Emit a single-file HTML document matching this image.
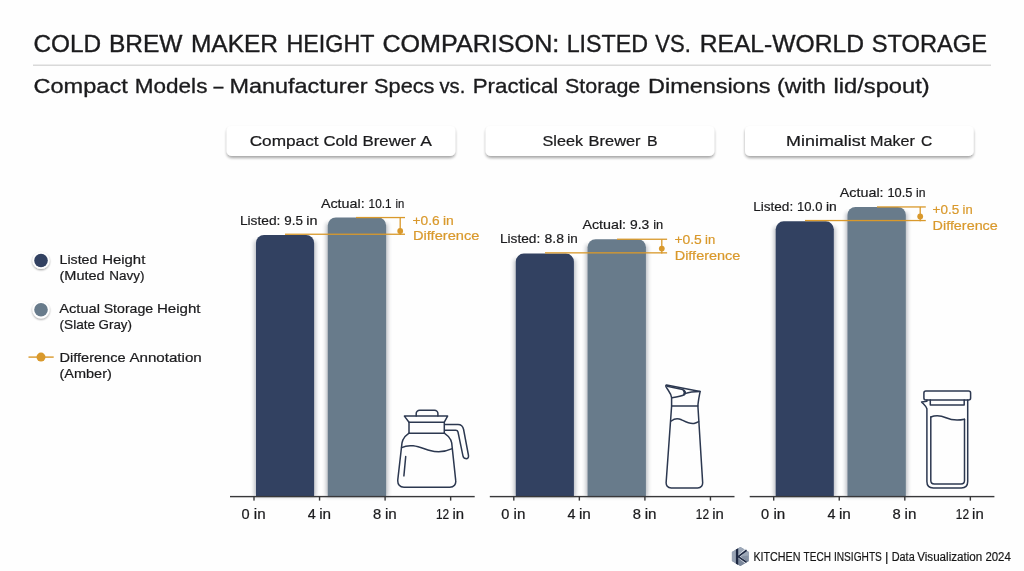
<!DOCTYPE html>
<html lang="en"><head><meta charset="utf-8"><title>Cold Brew Maker Height Comparison</title>
<style>
html,body{margin:0;padding:0;background:#fefefe;}
body{width:1024px;height:571px;overflow:hidden;font-family:"Liberation Sans",Arial,sans-serif;}
svg{display:block}
</style></head><body>
<svg width="1024" height="571" viewBox="0 0 1024 571" font-family="Liberation Sans, Arial, sans-serif">
<defs>
<filter id="cardsh" x="-10%" y="-40%" width="120%" height="200%"><feDropShadow dx="0" dy="2" stdDeviation="1.7" flood-color="#000" flood-opacity="0.36"/></filter>
<filter id="barsh" x="-20%" y="-5%" width="140%" height="110%"><feGaussianBlur stdDeviation="2.2"/></filter>
<filter id="dotsh" x="-50%" y="-50%" width="200%" height="200%"><feDropShadow dx="0" dy="1" stdDeviation="1.3" flood-color="#000" flood-opacity="0.42"/></filter>
</defs>
<rect width="1024" height="571" fill="#fefefe"/>
<g style="will-change:opacity" opacity="0.999">

<text y="51.6" font-size="24" fill="#1b1b1d" stroke="#1b1b1d" stroke-width="0.38" stroke-linejoin="round"><tspan x="33.5" textLength="67.7" lengthAdjust="spacingAndGlyphs">COLD</tspan> <tspan x="108.9" textLength="73.6" lengthAdjust="spacingAndGlyphs">BREW</tspan> <tspan x="190.9" textLength="87.2" lengthAdjust="spacingAndGlyphs">MAKER</tspan> <tspan x="286.5" textLength="87.5" lengthAdjust="spacingAndGlyphs">HEIGHT</tspan> <tspan x="382.4" textLength="176.9" lengthAdjust="spacingAndGlyphs">COMPARISON:</tspan> <tspan x="566.7" textLength="81.3" lengthAdjust="spacingAndGlyphs">LISTED</tspan> <tspan x="655.3" textLength="35.5" lengthAdjust="spacingAndGlyphs">VS.</tspan> <tspan x="699.7" textLength="164.3" lengthAdjust="spacingAndGlyphs">REAL-WORLD</tspan> <tspan x="871.7" textLength="115.3" lengthAdjust="spacingAndGlyphs">STORAGE</tspan></text>
<rect x="33" y="64.5" width="958" height="1.5" fill="#d9d9d9"/>
<text y="93.4" font-size="20.3" fill="#1b1b1d" stroke="#1b1b1d" stroke-width="0.32" stroke-linejoin="round"><tspan x="33.5" textLength="94.3" lengthAdjust="spacingAndGlyphs">Compact</tspan> <tspan x="134.8" textLength="72.6" lengthAdjust="spacingAndGlyphs">Models</tspan> <tspan x="213.5" textLength="9.9" lengthAdjust="spacingAndGlyphs">–</tspan> <tspan x="229.4" textLength="138.1" lengthAdjust="spacingAndGlyphs">Manufacturer</tspan> <tspan x="374.1" textLength="60.4" lengthAdjust="spacingAndGlyphs">Specs</tspan> <tspan x="439.5" textLength="25.8" lengthAdjust="spacingAndGlyphs">vs.</tspan> <tspan x="472.7" textLength="85.6" lengthAdjust="spacingAndGlyphs">Practical</tspan> <tspan x="565.0" textLength="75.3" lengthAdjust="spacingAndGlyphs">Storage</tspan> <tspan x="648.0" textLength="122.4" lengthAdjust="spacingAndGlyphs">Dimensions</tspan> <tspan x="777.1" textLength="48.7" lengthAdjust="spacingAndGlyphs">(with</tspan> <tspan x="833.5" textLength="96.2" lengthAdjust="spacingAndGlyphs">lid/spout)</tspan></text>
<circle cx="41" cy="260.5" r="8.6" fill="#fff" filter="url(#dotsh)"/><circle cx="41" cy="260.5" r="6.8" fill="#324161"/>
<circle cx="41" cy="309.8" r="8.6" fill="#fff" filter="url(#dotsh)"/><circle cx="41" cy="309.8" r="6.8" fill="#687b8b"/>
<rect x="28.5" y="356.4" width="25.2" height="1.4" fill="#d9992c"/><circle cx="41" cy="357.1" r="4.5" fill="#d9992c"/>
<text y="264.4" font-size="13.1" fill="#1b1b1d" stroke="#1b1b1d" stroke-width="0.21" stroke-linejoin="round"><tspan x="59.5" textLength="37.9" lengthAdjust="spacingAndGlyphs">Listed</tspan> <tspan x="102.2" textLength="43.1" lengthAdjust="spacingAndGlyphs">Height</tspan></text>
<text y="279.6" font-size="13.1" fill="#1b1b1d" stroke="#1b1b1d" stroke-width="0.21" stroke-linejoin="round"><tspan x="59.5" textLength="45.2" lengthAdjust="spacingAndGlyphs">(Muted</tspan> <tspan x="109.2" textLength="35.3" lengthAdjust="spacingAndGlyphs">Navy)</tspan></text>
<text y="313.1" font-size="13.1" fill="#1b1b1d" stroke="#1b1b1d" stroke-width="0.21" stroke-linejoin="round"><tspan x="59.2" textLength="40.8" lengthAdjust="spacingAndGlyphs">Actual</tspan> <tspan x="103.7" textLength="49.5" lengthAdjust="spacingAndGlyphs">Storage</tspan> <tspan x="157.0" textLength="43.5" lengthAdjust="spacingAndGlyphs">Height</tspan></text>
<text y="328.9" font-size="13.1" fill="#1b1b1d" stroke="#1b1b1d" stroke-width="0.21" stroke-linejoin="round"><tspan x="59.5" textLength="35.7" lengthAdjust="spacingAndGlyphs">(Slate</tspan> <tspan x="98.6" textLength="33.4" lengthAdjust="spacingAndGlyphs">Gray)</tspan></text>
<text y="361.6" font-size="13.1" fill="#1b1b1d" stroke="#1b1b1d" stroke-width="0.21" stroke-linejoin="round"><tspan x="59.5" textLength="66.1" lengthAdjust="spacingAndGlyphs">Difference</tspan> <tspan x="129.4" textLength="72.4" lengthAdjust="spacingAndGlyphs">Annotation</tspan></text>
<text y="377.7" font-size="13.1" fill="#1b1b1d" stroke="#1b1b1d" stroke-width="0.21" stroke-linejoin="round"><tspan x="59.5" textLength="52.3" lengthAdjust="spacingAndGlyphs">(Amber)</tspan></text>
<rect x="226.7" y="125.9" width="228.6" height="30" rx="5" fill="#fff" filter="url(#cardsh)"/>
<text y="146.2" font-size="15.2" fill="#1b1b1d" stroke="#1b1b1d" stroke-width="0.24" stroke-linejoin="round"><tspan x="249.7" textLength="68.9" lengthAdjust="spacingAndGlyphs">Compact</tspan> <tspan x="323.5" textLength="34.2" lengthAdjust="spacingAndGlyphs">Cold</tspan> <tspan x="362.5" textLength="53.4" lengthAdjust="spacingAndGlyphs">Brewer</tspan> <tspan x="420.2" textLength="11.7" lengthAdjust="spacingAndGlyphs">A</tspan></text>
<rect x="254.5" y="241.0" width="61.1" height="255.5" fill="#5b6472" opacity="0.45" filter="url(#barsh)"/>
<rect x="326.3" y="223.5" width="61.3" height="273.0" fill="#5b6472" opacity="0.45" filter="url(#barsh)"/>
<path d="M256.0 496.5 V243.0 a8 8 0 0 1 8 -8 h42.1 a8 8 0 0 1 8 8 V496.5 Z" fill="#324161"/>
<path d="M327.8 496.5 V225.5 a8 8 0 0 1 8 -8 h42.3 a8 8 0 0 1 8 8 V496.5 Z" fill="#687b8b"/>
<rect x="230.0" y="495.9" width="244.7" height="1.4" fill="#38383a"/>
<rect x="253.30" y="496" width="1.4" height="4.6" fill="#38383a"/>
<text y="518.5" font-size="14.2" fill="#1b1b1d" stroke="#1b1b1d" stroke-width="0.23" stroke-linejoin="round"><tspan x="241.4" textLength="8.1" lengthAdjust="spacingAndGlyphs">0</tspan> <tspan x="253.8" textLength="11.8" lengthAdjust="spacingAndGlyphs">in</tspan></text>
<rect x="318.85" y="496" width="1.4" height="4.6" fill="#38383a"/>
<text y="518.5" font-size="14.2" fill="#1b1b1d" stroke="#1b1b1d" stroke-width="0.23" stroke-linejoin="round"><tspan x="307.7" textLength="8.0" lengthAdjust="spacingAndGlyphs">4</tspan> <tspan x="319.2" textLength="11.9" lengthAdjust="spacingAndGlyphs">in</tspan></text>
<rect x="384.40" y="496" width="1.4" height="4.6" fill="#38383a"/>
<text y="518.5" font-size="14.2" fill="#1b1b1d" stroke="#1b1b1d" stroke-width="0.23" stroke-linejoin="round"><tspan x="372.9" textLength="8.2" lengthAdjust="spacingAndGlyphs">8</tspan> <tspan x="384.9" textLength="11.8" lengthAdjust="spacingAndGlyphs">in</tspan></text>
<rect x="449.95" y="496" width="1.4" height="4.6" fill="#38383a"/>
<text y="518.5" font-size="14.2" fill="#1b1b1d" stroke="#1b1b1d" stroke-width="0.23" stroke-linejoin="round"><tspan x="436.0" textLength="13.2" lengthAdjust="spacingAndGlyphs">12</tspan> <tspan x="452.4" textLength="11.6" lengthAdjust="spacingAndGlyphs">in</tspan></text>
<g fill="#d9992c"><rect x="356" y="216.9" width="49.0" height="1.3"/><rect x="285" y="233.6" width="120.0" height="1.3"/><rect x="399.55" y="217.5" width="1.3" height="17.5"/><circle cx="400.2" cy="231" r="2.9"/></g>
<text y="224.8" font-size="13.4" fill="#1b1b1d" stroke="#1b1b1d" stroke-width="0.21" stroke-linejoin="round"><tspan x="239.9" textLength="40.5" lengthAdjust="spacingAndGlyphs">Listed:</tspan> <tspan x="284.3" textLength="18.6" lengthAdjust="spacingAndGlyphs">9.5</tspan> <tspan x="306.3" textLength="11.2" lengthAdjust="spacingAndGlyphs">in</tspan></text>
<text y="207.7" font-size="13.4" fill="#1b1b1d" stroke="#1b1b1d" stroke-width="0.21" stroke-linejoin="round"><tspan x="320.9" textLength="43.8" lengthAdjust="spacingAndGlyphs">Actual:</tspan> <tspan x="368.6" textLength="22.9" lengthAdjust="spacingAndGlyphs">10.1</tspan> <tspan x="395.4" textLength="8.8" lengthAdjust="spacingAndGlyphs">in</tspan></text>
<text y="224.8" font-size="13.4" fill="#d9992c" stroke="#d9992c" stroke-width="0.21" stroke-linejoin="round"><tspan x="412.5" textLength="27.1" lengthAdjust="spacingAndGlyphs">+0.6</tspan> <tspan x="443.0" textLength="10.8" lengthAdjust="spacingAndGlyphs">in</tspan></text>
<text y="240" font-size="13.4" fill="#d9992c" stroke="#d9992c" stroke-width="0.21" stroke-linejoin="round"><tspan x="413.0" textLength="66.4" lengthAdjust="spacingAndGlyphs">Difference</tspan></text>
<rect x="485.7" y="125.9" width="228.6" height="30" rx="5" fill="#fff" filter="url(#cardsh)"/>
<text y="146.2" font-size="15.2" fill="#1b1b1d" stroke="#1b1b1d" stroke-width="0.24" stroke-linejoin="round"><tspan x="542.5" textLength="40.6" lengthAdjust="spacingAndGlyphs">Sleek</tspan> <tspan x="588.6" textLength="52.0" lengthAdjust="spacingAndGlyphs">Brewer</tspan> <tspan x="647.1" textLength="10.6" lengthAdjust="spacingAndGlyphs">B</tspan></text>
<rect x="514.3" y="259.6" width="61.1" height="236.9" fill="#5b6472" opacity="0.45" filter="url(#barsh)"/>
<rect x="586.1" y="245.2" width="61.3" height="251.3" fill="#5b6472" opacity="0.45" filter="url(#barsh)"/>
<path d="M515.8 496.5 V261.6 a8 8 0 0 1 8 -8 h42.1 a8 8 0 0 1 8 8 V496.5 Z" fill="#324161"/>
<path d="M587.6 496.5 V247.2 a8 8 0 0 1 8 -8 h42.3 a8 8 0 0 1 8 8 V496.5 Z" fill="#687b8b"/>
<rect x="489.8" y="495.9" width="244.7" height="1.4" fill="#38383a"/>
<rect x="513.10" y="496" width="1.4" height="4.6" fill="#38383a"/>
<text y="518.5" font-size="14.2" fill="#1b1b1d" stroke="#1b1b1d" stroke-width="0.23" stroke-linejoin="round"><tspan x="501.2" textLength="8.1" lengthAdjust="spacingAndGlyphs">0</tspan> <tspan x="513.6" textLength="11.8" lengthAdjust="spacingAndGlyphs">in</tspan></text>
<rect x="578.65" y="496" width="1.4" height="4.6" fill="#38383a"/>
<text y="518.5" font-size="14.2" fill="#1b1b1d" stroke="#1b1b1d" stroke-width="0.23" stroke-linejoin="round"><tspan x="567.4" textLength="8.0" lengthAdjust="spacingAndGlyphs">4</tspan> <tspan x="578.9" textLength="11.9" lengthAdjust="spacingAndGlyphs">in</tspan></text>
<rect x="644.20" y="496" width="1.4" height="4.6" fill="#38383a"/>
<text y="518.5" font-size="14.2" fill="#1b1b1d" stroke="#1b1b1d" stroke-width="0.23" stroke-linejoin="round"><tspan x="632.7" textLength="8.2" lengthAdjust="spacingAndGlyphs">8</tspan> <tspan x="644.7" textLength="11.8" lengthAdjust="spacingAndGlyphs">in</tspan></text>
<rect x="709.75" y="496" width="1.4" height="4.6" fill="#38383a"/>
<text y="518.5" font-size="14.2" fill="#1b1b1d" stroke="#1b1b1d" stroke-width="0.23" stroke-linejoin="round"><tspan x="695.8" textLength="13.2" lengthAdjust="spacingAndGlyphs">12</tspan> <tspan x="712.2" textLength="11.6" lengthAdjust="spacingAndGlyphs">in</tspan></text>
<g fill="#d9992c"><rect x="617" y="238.6" width="50.1" height="1.3"/><rect x="545" y="252.2" width="122.1" height="1.3"/><rect x="661.15" y="239.2" width="1.3" height="14.4"/><circle cx="661.8" cy="248.6" r="2.9"/></g>
<text y="242.5" font-size="13.4" fill="#1b1b1d" stroke="#1b1b1d" stroke-width="0.21" stroke-linejoin="round"><tspan x="499.9" textLength="40.3" lengthAdjust="spacingAndGlyphs">Listed:</tspan> <tspan x="544.5" textLength="19.4" lengthAdjust="spacingAndGlyphs">8.8</tspan> <tspan x="567.3" textLength="10.5" lengthAdjust="spacingAndGlyphs">in</tspan></text>
<text y="228.6" font-size="13.4" fill="#1b1b1d" stroke="#1b1b1d" stroke-width="0.21" stroke-linejoin="round"><tspan x="582.4" textLength="43.7" lengthAdjust="spacingAndGlyphs">Actual:</tspan> <tspan x="630.0" textLength="19.3" lengthAdjust="spacingAndGlyphs">9.3</tspan> <tspan x="653.2" textLength="10.0" lengthAdjust="spacingAndGlyphs">in</tspan></text>
<text y="244" font-size="13.4" fill="#d9992c" stroke="#d9992c" stroke-width="0.21" stroke-linejoin="round"><tspan x="674.4" textLength="27.4" lengthAdjust="spacingAndGlyphs">+0.5</tspan> <tspan x="705.0" textLength="10.2" lengthAdjust="spacingAndGlyphs">in</tspan></text>
<text y="259.5" font-size="13.4" fill="#d9992c" stroke="#d9992c" stroke-width="0.21" stroke-linejoin="round"><tspan x="674.7" textLength="65.7" lengthAdjust="spacingAndGlyphs">Difference</tspan></text>
<rect x="745.0" y="125.9" width="228.6" height="30" rx="5" fill="#fff" filter="url(#cardsh)"/>
<text y="146.2" font-size="15.2" fill="#1b1b1d" stroke="#1b1b1d" stroke-width="0.24" stroke-linejoin="round"><tspan x="786.1" textLength="79.6" lengthAdjust="spacingAndGlyphs">Minimalist</tspan> <tspan x="870.1" textLength="44.8" lengthAdjust="spacingAndGlyphs">Maker</tspan> <tspan x="920.9" textLength="11.2" lengthAdjust="spacingAndGlyphs">C</tspan></text>
<rect x="774.2" y="227.3" width="61.1" height="269.2" fill="#5b6472" opacity="0.45" filter="url(#barsh)"/>
<rect x="846.0" y="212.9" width="61.3" height="283.6" fill="#5b6472" opacity="0.45" filter="url(#barsh)"/>
<path d="M775.7 496.5 V229.3 a8 8 0 0 1 8 -8 h42.1 a8 8 0 0 1 8 8 V496.5 Z" fill="#324161"/>
<path d="M847.5 496.5 V214.9 a8 8 0 0 1 8 -8 h42.3 a8 8 0 0 1 8 8 V496.5 Z" fill="#687b8b"/>
<rect x="749.7" y="495.9" width="244.7" height="1.4" fill="#38383a"/>
<rect x="773.00" y="496" width="1.4" height="4.6" fill="#38383a"/>
<text y="518.5" font-size="14.2" fill="#1b1b1d" stroke="#1b1b1d" stroke-width="0.23" stroke-linejoin="round"><tspan x="761.1" textLength="8.1" lengthAdjust="spacingAndGlyphs">0</tspan> <tspan x="773.5" textLength="11.8" lengthAdjust="spacingAndGlyphs">in</tspan></text>
<rect x="838.55" y="496" width="1.4" height="4.6" fill="#38383a"/>
<text y="518.5" font-size="14.2" fill="#1b1b1d" stroke="#1b1b1d" stroke-width="0.23" stroke-linejoin="round"><tspan x="827.4" textLength="8.0" lengthAdjust="spacingAndGlyphs">4</tspan> <tspan x="838.9" textLength="11.9" lengthAdjust="spacingAndGlyphs">in</tspan></text>
<rect x="904.10" y="496" width="1.4" height="4.6" fill="#38383a"/>
<text y="518.5" font-size="14.2" fill="#1b1b1d" stroke="#1b1b1d" stroke-width="0.23" stroke-linejoin="round"><tspan x="892.6" textLength="8.2" lengthAdjust="spacingAndGlyphs">8</tspan> <tspan x="904.6" textLength="11.8" lengthAdjust="spacingAndGlyphs">in</tspan></text>
<rect x="969.65" y="496" width="1.4" height="4.6" fill="#38383a"/>
<text y="518.5" font-size="14.2" fill="#1b1b1d" stroke="#1b1b1d" stroke-width="0.23" stroke-linejoin="round"><tspan x="955.8" textLength="13.2" lengthAdjust="spacingAndGlyphs">12</tspan> <tspan x="972.1" textLength="11.6" lengthAdjust="spacingAndGlyphs">in</tspan></text>
<g fill="#d9992c"><rect x="877" y="206.3" width="48.8" height="1.3"/><rect x="805" y="219.9" width="120.8" height="1.3"/><rect x="919.5500000000001" y="206.9" width="1.3" height="14.4"/><circle cx="920.2" cy="216.5" r="2.9"/></g>
<text y="210.5" font-size="13.4" fill="#1b1b1d" stroke="#1b1b1d" stroke-width="0.21" stroke-linejoin="round"><tspan x="753.2" textLength="40.0" lengthAdjust="spacingAndGlyphs">Listed:</tspan> <tspan x="797.1" textLength="25.4" lengthAdjust="spacingAndGlyphs">10.0</tspan> <tspan x="825.9" textLength="10.8" lengthAdjust="spacingAndGlyphs">in</tspan></text>
<text y="196.5" font-size="13.4" fill="#1b1b1d" stroke="#1b1b1d" stroke-width="0.21" stroke-linejoin="round"><tspan x="839.8" textLength="43.8" lengthAdjust="spacingAndGlyphs">Actual:</tspan> <tspan x="887.4" textLength="25.0" lengthAdjust="spacingAndGlyphs">10.5</tspan> <tspan x="916.0" textLength="9.5" lengthAdjust="spacingAndGlyphs">in</tspan></text>
<text y="214.2" font-size="13.4" fill="#d9992c" stroke="#d9992c" stroke-width="0.21" stroke-linejoin="round"><tspan x="932.6" textLength="26.6" lengthAdjust="spacingAndGlyphs">+0.5</tspan> <tspan x="962.6" textLength="10.1" lengthAdjust="spacingAndGlyphs">in</tspan></text>
<text y="229.6" font-size="13.4" fill="#d9992c" stroke="#d9992c" stroke-width="0.21" stroke-linejoin="round"><tspan x="932.6" textLength="65.2" lengthAdjust="spacingAndGlyphs">Difference</tspan></text>
<g fill="none" stroke="#2c3850" stroke-width="1.5" stroke-linejoin="round" stroke-linecap="round">
<path d="M416.2 416.1 V413.6 a3.4 3.4 0 0 1 3.4 -3.4 h14.9 a3.4 3.4 0 0 1 3.4 3.4 V416.1"/>
<path d="M404.4 416.1 H447.6 L444.3 422.2 H409 Z"/>
<path d="M409 422.2 V433.2 M444.3 422.2 V433.2 M409 433.2 H444.3"/>
<path d="M409 433.2 C405 436 402.6 438.5 402 442.8 L397.8 479.6 C397.3 484.5 400 487.3 404 487.3 H449.8 C454 487.3 456.2 484 455.7 480.4 L451.7 442.8 C451 438.5 448.5 436 444.3 433.2"/>
<path d="M401.6 447.6 C411 443 420 447.5 430 450.5 C438 452.8 446 451.5 452.2 448.6"/>
<path d="M405.7 456.6 L403.9 475.9"/>
<path d="M445.3 424.4 H458 C461.5 424.4 463 426.5 463.6 429.5 L468.4 455 C468.9 457.8 467.6 458.9 465.6 458.6 C464 458.4 463.2 457.3 462.9 455.6 L458 432 C457.6 430.6 457 430.2 455.8 430.2 H445.3"/>
</g>
<g fill="none" stroke="#2c3850" stroke-width="1.5" stroke-linejoin="round" stroke-linecap="round">
<path d="M666.6 385.1 L700.1 391.6 C699.2 396.5 698.2 401 697.9 406 L702.6 481.6 C703.1 485.5 701 488 697.6 488 H671.2 C667.8 488 665.7 485.5 666.2 481.6 L671.6 406.2 V397.7 C671 392.8 667.6 390 666 386.6 C665.6 385.6 665.9 385 666.6 385.1 Z"/>
<path d="M671.6 406.1 H697.9"/>
<path d="M667.2 386.3 L682.6 389.6 C685.4 390.4 686.2 393.2 684.4 394.7 C681.2 396.6 676 397.2 671.8 397.7"/>
<path d="M683.6 390.4 C684.6 391.5 684.8 393.0 684.0 394.4" stroke-width="1.9"/>
<path d="M684.9 393.6 C689 392.3 694 391.7 700.1 391.6"/>
<path d="M671.3 421 C674 418.8 678 418.2 681.5 419.8 C686 422 690 424.3 694 423.4 C695.8 423 697.3 422.3 698.6 421.6"/>
</g>

<g fill="none" stroke="#2c3850" stroke-width="1.5" stroke-linejoin="round" stroke-linecap="round">
<rect x="923.9" y="391" width="46.7" height="9.1" rx="2"/>
<path d="M930.3 400.1 V404.9 H964.2 V400.1"/>
<path d="M926.9 400.1 V401.2 L921.6 401.9 C923.5 404 926.2 406 926.9 408.7 V481.6 C926.9 485.6 929.3 488 933.3 488 H961.3 C965.3 488 967.7 485.6 967.7 481.6 V400.1"/>
<path d="M930.8 417 V480.4 C930.8 482.7 932 483.9 934.3 483.9 H961 C963.3 483.9 964.5 482.7 964.5 480.4 V419.2"/>
<path d="M930.8 417 C936 415 941 415.6 946 417.8 C952 420.4 958 420.6 964.5 419.2"/>
</g>
<g>
<path d="M740.4 547 L748.9 552 V561.1 L740.4 566.1 L731.9 561.1 V552 Z" fill="#8591a4"/>
<path d="M731.9 552 L736 549.6 V563.5 L731.9 561.1 Z" fill="#98a3b4"/>
<path d="M738.2 548.3 L740.4 547 L748.9 552 V555.5 L741 556.4 L738.2 556.4 Z" fill="#9da8b8"/>
<path d="M738.2 556.8 L741 556.8 L748.9 561.1 L740.4 566.1 L738.2 564.8 Z" fill="#7b879b"/>
<path d="M738.9 556.2 L746.4 549.6 M738.9 557 L746.3 562.6" stroke="#e8ecf2" stroke-width="2.6" fill="none"/>
<path d="M735.9 549.4 L738.2 548.2 V565 L735.9 563.7 Z" fill="#1d2842"/>
<path d="M738.2 556.6 L746.6 550.2 M738.2 556.6 L746.5 562.3" stroke="#1d2842" stroke-width="1.7" fill="none"/>
</g>
<text y="561" font-size="12" fill="#161616" stroke="#161616" stroke-width="0.19" stroke-linejoin="round"><tspan x="753.4" textLength="47.1" lengthAdjust="spacingAndGlyphs">KITCHEN</tspan> <tspan x="803.6" textLength="27.3" lengthAdjust="spacingAndGlyphs">TECH</tspan> <tspan x="833.9" textLength="48.0" lengthAdjust="spacingAndGlyphs">INSIGHTS</tspan> <tspan x="885.1" textLength="3.4" lengthAdjust="spacingAndGlyphs">|</tspan> <tspan x="891.7" textLength="23.0" lengthAdjust="spacingAndGlyphs">Data</tspan> <tspan x="917.2" textLength="65.1" lengthAdjust="spacingAndGlyphs">Visualization</tspan> <tspan x="985.4" textLength="25.4" lengthAdjust="spacingAndGlyphs">2024</tspan></text>
</g></svg></body></html>
